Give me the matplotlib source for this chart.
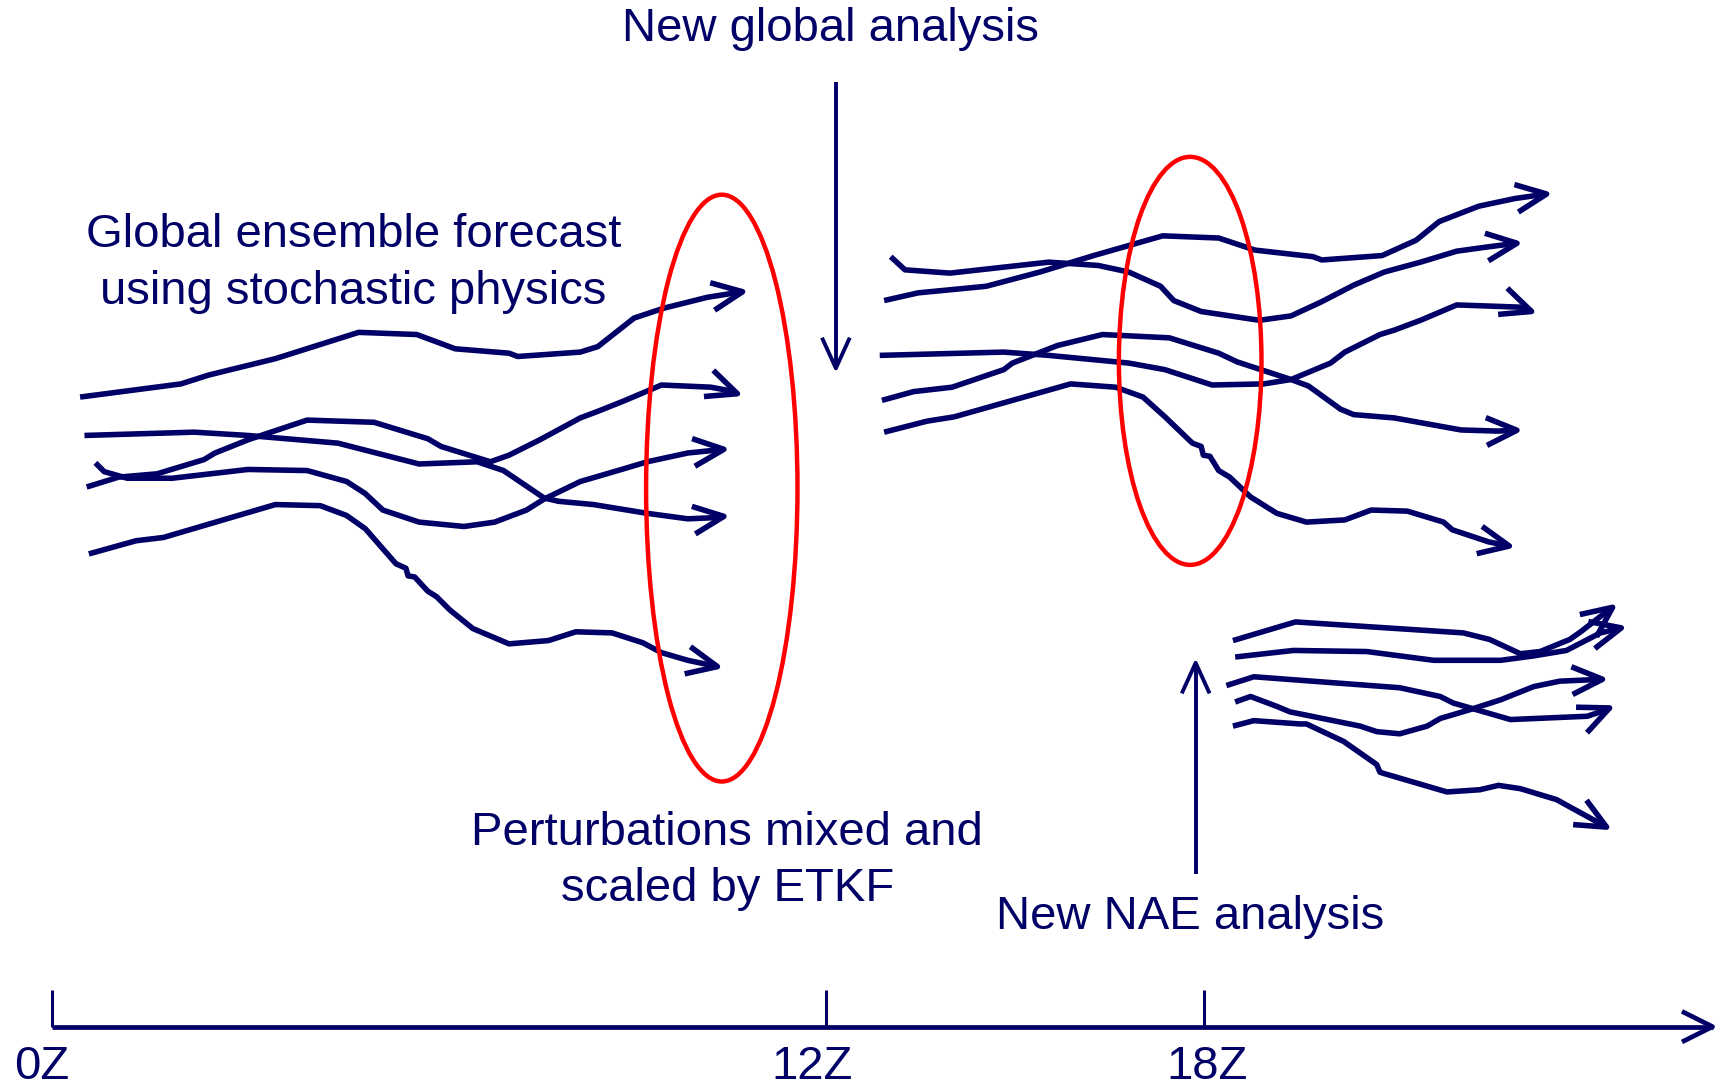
import matplotlib
matplotlib.use("Agg")
import matplotlib.pyplot as plt
from matplotlib.patches import Ellipse, FancyArrowPatch
from matplotlib.path import Path

plt.rcParams['font.family'] = ['Liberation Sans', 'DejaVu Sans']

NAVY = '#000066'
RED = '#ff0000'

# curves (x, y in picture units, y downward)
# global ensemble, 0Z -> 12Z
glob_1 = [(73, 362), (165, 350), (190, 342), (251, 327), (327, 303), (380, 305), (415, 318),
          (464, 322), (472, 325), (529, 321), (545, 316), (578, 290), (605, 281), (645, 271), (683, 265)]
glob_2 = [(79, 444), (108, 435), (143, 432), (186, 419), (196, 413), (226, 401), (280, 383),
          (341, 385), (390, 400), (402, 407), (447, 421), (464, 415), (492, 401), (505, 394),
          (529, 381), (545, 375), (570, 365), (603, 351), (648, 353), (664, 356), (678, 361)]
glob_3 = [(77, 397), (177, 394), (226, 397), (308, 404), (382, 423), (435, 421), (459, 429),
          (496, 454), (509, 457), (541, 460), (590, 468), (627, 473), (650, 472), (666, 470)]
glob_4 = [(87, 422), (95, 430), (116, 436), (157, 436), (226, 428), (280, 429), (316, 439),
          (333, 450), (349, 465), (382, 476), (423, 480), (451, 476), (480, 465), (496, 455),
          (529, 439), (570, 427), (590, 421), (627, 413), (666, 409)]
glob_5 = [(81, 505), (124, 493), (149, 490), (251, 460), (292, 461), (316, 470), (333, 482),
          (361, 514), (370, 518), (372, 525), (378, 526), (390, 539), (398, 544), (410, 556),
          (431, 573), (464, 587), (500, 584), (525, 576), (558, 577), (586, 586), (603, 595),
          (627, 602), (660, 609)]

# ensemble after 12Z
mid_1 = [(812, 234), (825, 246), (866, 249), (956, 239), (1001, 242), (1029, 248), (1058, 261),
         (1070, 274), (1095, 284), (1148, 292), (1177, 288), (1205, 275), (1234, 260), (1262, 248),
         (1295, 239), (1328, 229), (1357, 225), (1389, 221)]
mid_2 = [(806, 274), (837, 267), (899, 261), (948, 248), (997, 233), (1060, 215), (1111, 217),
         (1144, 228), (1197, 234), (1205, 237), (1260, 233), (1291, 219), (1312, 202), (1348, 188),
         (1381, 181), (1416, 176)]
mid_3 = [(802, 324), (915, 321), (956, 324), (1029, 331), (1062, 337), (1105, 351), (1152, 350),
         (1177, 346), (1193, 352), (1222, 373), (1234, 378), (1271, 381), (1332, 392), (1365, 393),
         (1389, 392)]
mid_4 = [(804, 365), (833, 357), (868, 353), (915, 337), (923, 331), (964, 315), (1005, 305),
         (1066, 308), (1111, 322), (1128, 330), (1177, 346), (1213, 331), (1226, 321), (1258, 305),
         (1271, 301), (1295, 292), (1328, 278), (1385, 280), (1402, 286)]
mid_5 = [(806, 394), (845, 384), (870, 380), (976, 350), (1017, 353), (1042, 362), (1062, 380),
         (1087, 404), (1095, 407), (1097, 415), (1103, 416), (1111, 429), (1121, 435), (1140, 453),
         (1164, 468), (1191, 476), (1226, 474), (1250, 465), (1283, 466), (1316, 476), (1324, 483),
         (1357, 494), (1382, 499)]

# NAE ensemble after 18Z
nae_1 = [(1124, 584), (1181, 567), (1334, 577), (1358, 583), (1386, 596), (1404, 594), (1431, 583),
         (1441, 576), (1459, 562), (1475, 550)]
nae_2 = [(1126, 599), (1179, 593), (1246, 594), (1307, 602), (1368, 602), (1398, 598), (1428, 593),
         (1459, 577), (1484, 571)]
nae_3 = [(1118, 625), (1143, 617), (1276, 627), (1313, 635), (1325, 641), (1377, 656), (1447, 653),
         (1459, 649), (1473, 643)]
nae_4 = [(1126, 640), (1140, 635), (1164, 644), (1176, 649), (1240, 662), (1255, 667), (1276, 669),
         (1301, 662), (1313, 655), (1340, 647), (1368, 638), (1398, 626), (1422, 621), (1467, 619)]
nae_5 = [(1124, 662), (1143, 657), (1185, 660), (1191, 660), (1225, 676), (1255, 697), (1258, 704),
         (1261, 705), (1319, 722), (1349, 720), (1366, 716), (1386, 719), (1419, 729), (1470, 757)]

curves = [glob_1, glob_2, glob_3, glob_4, glob_5,
          mid_1, mid_2, mid_3, mid_4, mid_5,
          nae_1, nae_2, nae_3, nae_4, nae_5]

# ellipses: centre, width, height
ellipse_centres = [(658, 445), (1085, 329)]
ellipse_sizes = [(138, 535), (130, 372)]

# time axis
tick_pos = [47, 753, 1098]
tick_labels = ['0Z', '12Z', '18Z']
label_pos = [38, 740, 1100]

fig = plt.figure(figsize=(17.2, 10.87), dpi=100)
ax = fig.add_axes([0, 0, 1, 1])
ax.set_xlim(0, 1568)
ax.set_ylim(991, 0)
ax.axis('off')


def arrow_path(pts, lw=4.0, hl=1.1, hw=0.5):
    p = FancyArrowPatch(path=Path(pts), arrowstyle='->,head_length=%g,head_width=%g' % (hl, hw),
                        mutation_scale=20, lw=lw, color=NAVY, joinstyle='round', capstyle='butt')
    ax.add_patch(p)


for c in curves:
    arrow_path(c)

for (cx, cy), (w, h) in zip(ellipse_centres, ellipse_sizes):
    ax.add_patch(Ellipse((cx, cy), w, h, fill=False, ec=RED, lw=3.2))

# analysis arrows
arrow_path([(762, 75), (762, 340)], lw=2.8, hl=1.1, hw=0.5)
arrow_path([(1090, 797), (1090, 600)], lw=2.8, hl=1.1, hw=0.5)

# time line
arrow_path([(47, 936), (1566, 936)], lw=3.4, hl=1.1, hw=0.55)
for t in tick_pos:
    ax.plot([t, t], [903, 936], color=NAVY, lw=2.2, solid_capstyle='butt')
for x, s in zip(label_pos, tick_labels):
    ax.text(x, 973, s, ha='center', va='center', fontsize=34, color=NAVY)

fs = 34
ax.text(757, 26, 'New global analysis', ha='center', va='center', fontsize=fs, color=NAVY)
ax.text(322, 240, 'Global ensemble forecast\nusing stochastic physics', ha='center', va='center',
        fontsize=fs, color=NAVY, linespacing=1.37)
ax.text(663, 785, 'Perturbations mixed and\nscaled by ETKF', ha='center', va='center',
        fontsize=fs, color=NAVY, linespacing=1.37)
ax.text(1085, 836, 'New NAE analysis', ha='center', va='center', fontsize=fs, color=NAVY)

fig.savefig('out.png', dpi=100)
